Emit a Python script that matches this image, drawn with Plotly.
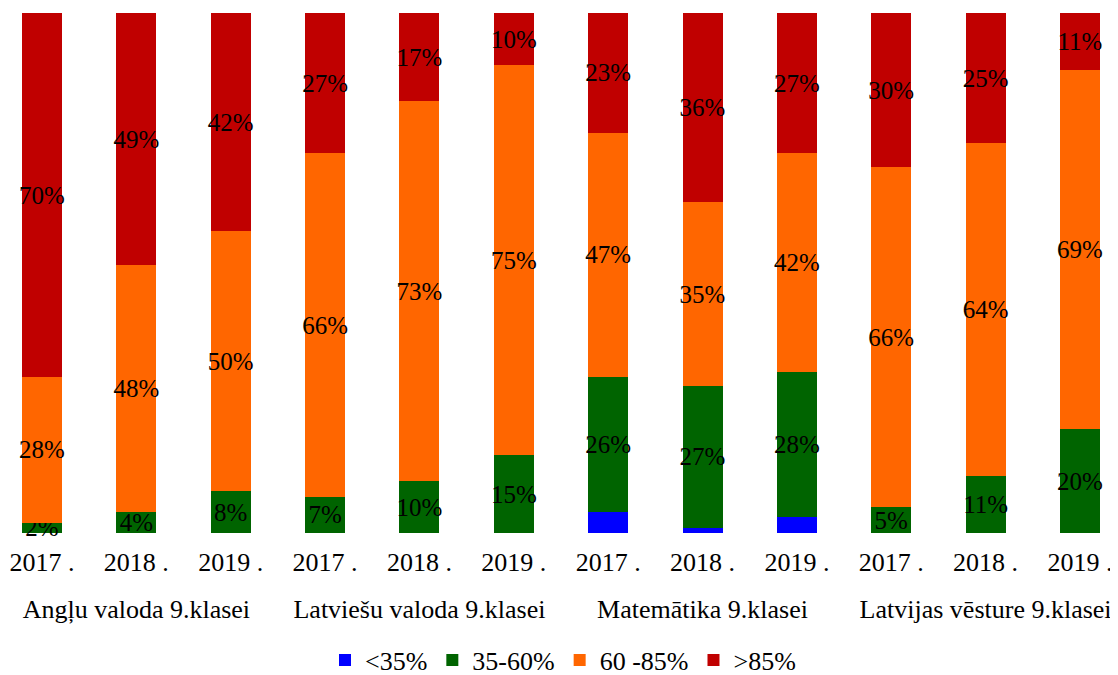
import plotly.graph_objects as go

years = ["2017 .", "2018 .", "2019 ."] * 4
bar_ids = list(range(12))
subject_names = ["Angļu valoda 9.klasei", "Latviešu valoda 9.klasei",
                 "Matemātika 9.klasei", "Latvijas vēsture 9.klasei"]
subject_centers = [1, 4, 7, 10]

below35 = [0, 0, 0, 0, 0, 0, 4, 1, 3, 0, 0, 0]
r35_60 = [2, 4, 8, 7, 10, 15, 26, 27, 28, 5, 11, 20]
r60_85 = [28, 48, 50, 66, 73, 75, 47, 35, 42, 66, 64, 69]
above85 = [70, 49, 42, 27, 17, 10, 23, 36, 27, 30, 25, 11]

series = [
    ("<35%", below35, "#0000FF", False),
    ("35-60%", r35_60, "#006400", True),
    ("60 -85%", r60_85, "#FF6600", True),
    (">85%", above85, "#C00000", True),
]

FONT = "Liberation Serif"

W, H = 1110, 667          # page body has an 8px margin
T, B = 5, 30
PH = H - T - B            # paper height
BAR_BOTTOM = 525          # figure px
dom_bottom = (H - B - BAR_BOTTOM) / PH

fig = go.Figure()
for name, vals, color, show_text in series:
    fig.add_trace(go.Bar(
        name=name,
        x=bar_ids,
        y=vals,
        marker=dict(color=color, line=dict(width=0)),
        text=[f"{v}%" for v in vals] if show_text else None,
        textposition="inside" if show_text else "none",
        insidetextanchor="middle",
        textangle=0,
        constraintext="none",
        cliponaxis=False,
        textfont=dict(family=FONT, size=25, color="black"),
        hoverinfo="skip",
    ))

# helper trace so the subject axis is drawn
fig.add_trace(go.Scatter(
    x=subject_centers, y=[0] * 4, xaxis="x2", mode="markers",
    marker=dict(opacity=0, size=1), showlegend=False, hoverinfo="skip",
))

step = 94.36
left = -34 / step
rng = [left, left + W / step]

fig.update_layout(
    barmode="stack",
    barnorm="percent",
    bargap=0.576,
    width=W,
    height=H,
    margin=dict(l=0, r=0, t=T, b=B, autoexpand=False),
    plot_bgcolor="white",
    paper_bgcolor="white",
    font=dict(family=FONT, size=26, color="black"),
    showlegend=True,
    legend=dict(
        orientation="h",
        traceorder="normal",
        x=0.5,
        xanchor="center",
        y=(H - B - 652) / PH,
        yanchor="middle",
        font=dict(family=FONT, size=26, color="black"),
    ),
    xaxis=dict(
        tickmode="array",
        tickvals=bar_ids,
        ticktext=years,
        range=rng,
        automargin=False,
        showline=False,
        showgrid=False,
        zeroline=False,
        ticks="",
        ticklabelstandoff=11,
        tickfont=dict(family=FONT, size=26, color="black"),
    ),
    xaxis2=dict(
        overlaying="x",
        anchor="free",
        position=(H - B - 583) / PH,
        tickmode="array",
        tickvals=subject_centers,
        ticktext=subject_names,
        range=rng,
        automargin=False,
        showline=False,
        showgrid=False,
        zeroline=False,
        ticks="",
        side="bottom",
        tickfont=dict(family=FONT, size=26, color="black"),
    ),
    yaxis=dict(
        domain=[dom_bottom, 1],
        range=[0, 100],
        automargin=False,
        visible=False,
        showgrid=False,
        zeroline=False,
    ),
)

fig.write_html("out.html")
